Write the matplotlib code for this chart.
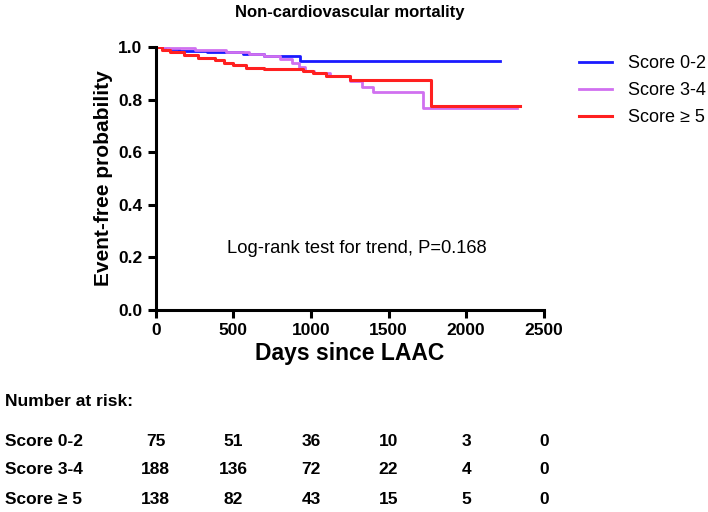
import matplotlib
matplotlib.use("Agg")
import matplotlib.pyplot as plt

plt.rcParams['font.family'] = ['Liberation Sans', 'DejaVu Sans']

# Kaplan-Meier steps (day, survival after the step)
t_low = [0, 60, 150, 330, 560, 700, 930, 2220]
s_low = [1.0, 0.993, 0.987, 0.98, 0.973, 0.966, 0.946, 0.946]

t_mid = [0, 80, 250, 450, 600, 700, 800, 880, 920, 960, 1020, 1120, 1250, 1330, 1400, 1720, 2330]
s_mid = [1.0, 0.995, 0.99, 0.983, 0.975, 0.965, 0.955, 0.94, 0.925, 0.91, 0.9, 0.89, 0.87, 0.85, 0.83, 0.77, 0.77]

t_high = [0, 40, 90, 180, 270, 380, 440, 500, 580, 700, 950, 1010, 1100, 1250, 1775, 2350]
s_high = [1.0, 0.99, 0.98, 0.97, 0.96, 0.95, 0.94, 0.93, 0.92, 0.915, 0.91, 0.9, 0.89, 0.875, 0.775, 0.775]

groups = ["Score 0-2", "Score 3-4", "Score \u2265 5"]
colors = ["#1a1aff", "#d070f0", "#ff2020"]

risk_days = [0, 500, 1000, 1500, 2000, 2500]
risk_low = [75, 51, 36, 10, 3, 0]
risk_mid = [188, 136, 72, 22, 4, 0]
risk_high = [138, 82, 43, 15, 5, 0]

fig = plt.figure(figsize=(7.08, 5.12), dpi=100)
ax = fig.add_axes([0.22, 0.395, 0.548, 0.513])

ax.step(t_low, s_low, where='post', color=colors[0], lw=2, label=groups[0])
ax.step(t_mid, s_mid, where='post', color=colors[1], lw=2, label=groups[1])
ax.step(t_high, s_high, where='post', color=colors[2], lw=2.2, label=groups[2])

ax.set_xlim(0, 2500)
ax.set_ylim(0, 1.0)
ax.set_xticks([0, 500, 1000, 1500, 2000, 2500])
ax.set_yticks([0.0, 0.2, 0.4, 0.6, 0.8, 1.0])
ax.set_yticklabels(["0.0", "0.2", "0.4", "0.6", "0.8", "1.0"])
for sp in ['top', 'right']:
    ax.spines[sp].set_visible(False)
for sp in ['left', 'bottom']:
    ax.spines[sp].set_linewidth(2.2)
ax.tick_params(width=2.2, length=6, labelsize=12.5)
for lab in ax.get_xticklabels() + ax.get_yticklabels():
    lab.set_fontweight('bold')
ax.set_xlabel("Days since LAAC", fontsize=16.5, fontweight='bold', labelpad=3)
ax.set_ylabel("Event-free probability", fontsize=15, fontweight='bold', labelpad=4)
ax.set_title("Non-cardiovascular mortality", fontsize=12, fontweight='bold', pad=22)
ax.text(1298, 0.232, "Log-rank test for trend, P=0.168", fontsize=13.2, ha='center', va='center')

ax.legend(loc='upper left', bbox_to_anchor=(1.05, 1.03), frameon=False, fontsize=13,
          handlelength=1.8, handletextpad=0.9, labelspacing=0.55)

# number at risk table
fig.text(5 / 708, 1 - 402 / 512, "Number at risk:", fontsize=12.5, fontweight='bold', va='center')
rows = [risk_low, risk_mid, risk_high]
row_y = [441, 470, 499]
for name, vals, yp in zip(groups, rows, row_y):
    fig.text(5 / 708, 1 - yp / 512, name, fontsize=12.5, fontweight='bold', va='center')
    for d, v in zip(risk_days, vals):
        xf = ax.transData.transform((d, 0))[0] / fig.bbox.width
        fig.text(xf, 1 - yp / 512, str(v), fontsize=12.5, fontweight='bold', ha='center', va='center')

fig.savefig("out.png", dpi=100)
